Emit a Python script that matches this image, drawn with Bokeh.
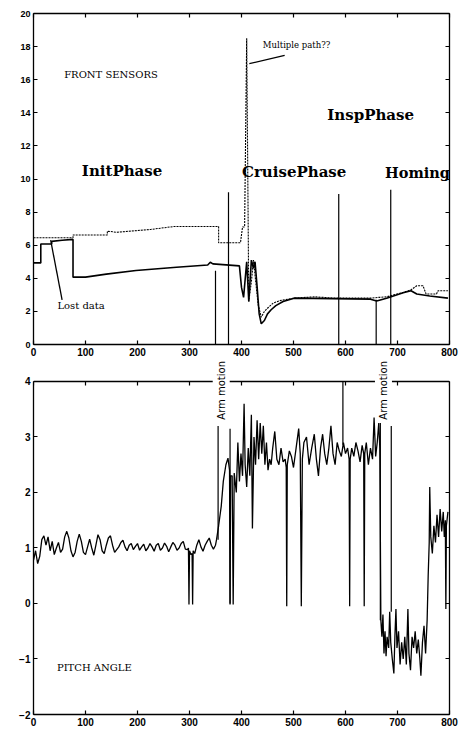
import math
from bokeh.plotting import figure
from bokeh.layouts import column
from bokeh.models import Label, LinearAxis, FixedTicker, Range1d, Span
from bokeh.embed import file_html
from bokeh.resources import INLINE

# ---------------- data: top panel (FRONT SENSORS) ----------------
sensor_a_x = [0, 76, 76, 142, 142, 160, 225, 270, 356, 356, 398, 402, 406, 410, 414, 419, 423, 426,
              428, 432, 438, 444, 452, 461, 474, 501, 540, 580, 648, 665, 679, 711, 726, 737, 749,
              755, 775, 778, 797]
sensor_a_y = [6.45, 6.45, 6.62, 6.62, 6.85, 6.78, 6.95, 7.13, 7.13, 6.15, 6.15, 7.1, 7.1, 18.5, 2.6,
              3.8, 5.1, 4.2, 3.6, 2.4, 1.65, 2.0, 2.25, 2.5, 2.65, 2.8, 2.88, 2.8, 2.8, 2.85, 2.88,
              3.15, 3.3, 3.55, 3.55, 3.05, 3.05, 3.25, 3.25]

sensor_b_x = [0, 14, 14, 35, 35, 55, 76, 76, 100, 140, 197, 275, 335, 340, 345, 396, 400, 404, 410,
              414, 419, 423, 426, 430, 434, 438, 444, 450, 457, 466, 480, 501, 648, 660, 679, 711,
              726, 737, 762, 797]
sensor_b_y = [4.93, 4.93, 6.07, 6.07, 6.23, 6.3, 6.35, 4.07, 4.07, 4.25, 4.47, 4.67, 4.8, 4.97, 4.87,
              4.75, 3.45, 2.85, 5.0, 2.6, 5.1, 4.6, 5.0, 3.5, 1.85, 1.25, 1.45, 1.85, 2.1, 2.35, 2.6,
              2.8, 2.74, 2.63, 2.8, 3.13, 3.25, 3.05, 2.93, 2.8]

top_marker_x = [350, 375, 587, 659, 687]
top_marker_y1 = [4.45, 9.2, 9.1, 2.7, 9.35]
top_marker_y0 = [0, 0, 0, 0, 0]

multipath_x = [415, 483]
multipath_y = [16.97, 17.47]
lostdata_x = [33, 55]
lostdata_y = [6.3, 2.7]

# ---------------- data: bottom panel (PITCH ANGLE) ----------------
pitch_x = [0, 4, 8, 12, 16, 20, 24, 28, 32, 36, 40, 44, 48, 52, 56, 60, 64, 68, 72, 76, 80, 84, 88,
           92, 96, 100, 104, 108, 112, 116, 120, 124, 128, 132, 136, 140, 144, 148, 152, 156, 160,
           164, 168, 172, 176, 180, 184, 188, 192, 196, 200, 204, 208, 212, 216, 220, 224, 228, 232,
           236, 240, 244, 248, 252, 256, 260, 264, 268, 272, 276, 280, 284, 288, 292, 296,
           298, 299, 300, 303, 305, 306, 307, 310, 314, 318, 322, 326, 330, 334, 338, 342, 346, 350,
           352, 356, 361, 365, 370, 374, 377, 378, 379, 382, 384, 386, 390, 393, 396, 399, 402, 405,
           407, 410, 413, 416, 419, 421, 424, 427, 430, 433, 436, 439, 442, 445, 448, 451, 454, 457,
           460, 464, 468, 472, 476, 480, 484, 486, 487, 488, 492, 496, 500, 505, 510, 513, 515, 517,
           520, 525, 530, 535, 540, 544, 548, 552, 556, 560, 564, 568, 572, 576, 580, 584, 588, 592,
           596, 600, 604, 607, 608, 609, 612, 616, 620, 624, 628, 632, 635, 636, 637, 640, 644, 648,
           652, 655, 658, 661, 664, 666, 668, 670, 672, 674, 676, 678, 680, 683, 685, 687, 690, 693,
           695, 697, 699, 702, 705, 708, 711, 714, 717, 720, 722, 725, 728, 731, 734, 737, 740, 743,
           745, 748, 751, 754, 757, 759, 761, 762, 764, 767, 770, 773, 776, 779, 782, 785, 788, 790,
           792, 793, 794, 797]
pitch_y = [0.78, 0.95, 0.72, 0.85, 1.15, 1.22, 1.05, 1.2, 0.95, 1.12, 0.88, 1.0, 1.1, 0.92, 0.98,
           1.2, 1.3, 1.18, 0.95, 0.84, 0.92, 1.12, 1.25, 1.12, 0.92, 0.88, 1.02, 1.16, 1.0, 0.87,
           1.05, 1.24, 1.15, 0.95, 0.9, 1.05, 1.18, 1.22, 1.05, 0.92, 0.97, 1.02, 1.1, 1.14, 1.02,
           0.95, 1.05, 1.08, 0.97, 1.03, 1.08, 0.96, 1.02, 1.07, 0.95, 1.0, 1.08, 1.02, 0.94, 1.05,
           1.08, 0.96, 1.0, 1.09, 1.03, 0.93, 1.02, 1.1, 1.05, 0.96, 1.0, 1.08, 1.12, 0.98, 0.97,
           1.0, -0.02, 0.95, 0.88, 0.9, -0.02, 0.95, 0.9, 1.05, 1.15, 1.02, 0.94, 1.05, 1.12, 1.18,
           1.05, 0.98, 1.05,
           1.15, 1.4, 1.75, 2.2, 2.5, 2.62, 2.4, -0.02, 2.3, 2.3, -0.02, 2.35, 2.0, 2.9, 2.2, 2.7,
           2.3, 3.6, 2.5, 2.1, 2.8, 2.3, 3.4, 1.35, 3.0, 2.5, 3.3, 2.6, 3.25, 2.7, 3.2, 2.5, 2.9,
           2.4, 2.6, 2.5, 2.8, 3.1, 2.6, 2.5, 2.8, 2.55, 2.6, 2.45, -0.05, 2.5, 2.75, 2.65, 2.45,
           2.8, 3.15, 2.7, -0.05, 2.6, 2.9, 3.0, 2.5, 2.8, 3.05, 2.6, 2.3, 2.8, 3.05, 2.7, 2.5, 2.8,
           3.2, 2.7, 2.5, 2.9, 2.75, 2.65, 2.9, 2.7, 2.8, 2.6, -0.05, 2.6, 2.8, 2.65, 2.9, 2.75,
           2.55, 2.85, 2.7, -0.05, 2.7, 2.9, 2.5, 2.8, 2.6, 3.35, 2.65, 2.9, 3.25, 2.8, -0.3, -0.6,
           -0.2, -0.9, -0.5, -0.95, -0.6, -0.8, -0.15, -0.7, -1.0, -1.26, -0.6, -0.1, -0.8, -0.5,
           -1.1, -0.7, -1.0, -0.6, -1.1, -0.1, -0.9, -1.2, -0.6, -0.8, -0.5, -0.9, -0.65, -1.0,
           -1.3, -0.7, -0.4, -0.9, -0.3, 0.5, 1.1, 2.1, 1.2, 0.9, 1.4, 1.1, 1.6, 1.2, 1.7, 1.3,
           1.65, 1.2, 1.5, -0.1, 1.4, 1.65]

pitch_marker_x = [355, 378, 595, 667, 688]
pitch_marker_y0 = [1.15, 0.0, 2.86, -0.3, -0.15]
pitch_marker_y1 = [3.2, 3.15, 4.0, 3.25, 3.2]

x_ticks = [0, 100, 200, 300, 400, 500, 600, 700, 800]
top_y_ticks = [0, 2, 4, 6, 8, 10, 12, 14, 16, 18, 20]
pitch_y_ticks = [-2, -1, 0, 1, 2, 3, 4]

phase_names = ["InitPhase", "CruisePhase", "InspPhase", "Homing"]

TICK_FONT = "Liberation Sans"
SERIF = "DejaVu Serif"


def style_axis(ax, size):
    ax.major_tick_in = 4
    ax.major_tick_out = 0
    ax.minor_tick_line_color = None
    ax.axis_line_width = 1.3
    ax.major_tick_line_width = 1.2
    ax.major_label_text_font = TICK_FONT
    ax.major_label_text_font_style = "bold"
    ax.major_label_text_color = "black"
    ax.major_label_text_font_size = size
    ax.major_label_standoff = 3


def blank_axis(ticks, bounds=None):
    ax = LinearAxis(ticker=FixedTicker(ticks=ticks), major_label_text_font_size="1px",
                    major_label_text_color=None, major_tick_in=4, major_tick_out=0,
                    major_label_standoff=0, minor_tick_line_color=None,
                    axis_line_width=1.3, major_tick_line_width=1.2)
    if bounds is not None:
        ax.bounds = bounds
    return ax


def base_style(p):
    p.grid.visible = False
    p.outline_line_color = None
    p.background_fill_color = "white"
    p.border_fill_color = "white"


def add_text(p, x, y, text, size, font=SERIF, style="normal", align="left", angle=0.0, bg=None):
    lab = Label(x=x, y=y, text=text, text_font=font, text_font_size=size,
                text_font_style=style, text_color="black", text_align=align,
                text_baseline="middle", angle=angle)
    if bg is not None:
        lab.background_fill_color = bg
        lab.padding = 3
    p.add_layout(lab)


# ---------------- top figure ----------------
p1 = figure(width=464, height=358, output_backend="svg", toolbar_location=None,
            x_range=Range1d(0, 800), y_range=Range1d(0, 20),
            min_border_left=33, min_border_right=10, min_border_top=13, min_border_bottom=13)
base_style(p1)
p1.xaxis.ticker = FixedTicker(ticks=x_ticks)
p1.yaxis.ticker = FixedTicker(ticks=top_y_ticks)
style_axis(p1.xaxis[0], "10px")
style_axis(p1.yaxis[0], "9px")
p1.add_layout(blank_axis(x_ticks), "above")
p1.add_layout(blank_axis(top_y_ticks), "right")

p1.line(sensor_b_x, sensor_b_y, line_color="black", line_width=1.6)
p1.line(sensor_a_x, sensor_a_y, line_color="black", line_width=1.1, line_dash="2 1")
p1.segment(x0=top_marker_x, y0=top_marker_y0, x1=top_marker_x, y1=top_marker_y1,
           line_color="black", line_width=1.2)
p1.line(multipath_x, multipath_y, line_color="black", line_width=1.2)
p1.line(lostdata_x, lostdata_y, line_color="black", line_width=1.3)

add_text(p1, 59, 16.3, "FRONT SENSORS", "10px")
add_text(p1, 93, 10.5, phase_names[0], "15px", style="bold")
add_text(p1, 401, 10.4, phase_names[1], "15px", style="bold")
add_text(p1, 565, 13.85, phase_names[2], "15px", style="bold")
add_text(p1, 676, 10.4, phase_names[3], "14.5px", style="bold")
add_text(p1, 441, 18.1, "Multiple path??", "8.5px")
add_text(p1, 46, 2.35, "Lost data", "10px")

# ---------------- bottom figure ----------------
# frame reaches a little above y=4 so the "Arm motion" notes can straddle the top border
pitch_top = 4
p2 = figure(width=464, height=374, output_backend="svg", toolbar_location=None,
            x_range=Range1d(0, 800), y_range=Range1d(-2, 4.414),
            min_border_left=26, min_border_right=15, min_border_top=0, min_border_bottom=18)
base_style(p2)
p2.xaxis.ticker = FixedTicker(ticks=x_ticks)
p2.yaxis.ticker = FixedTicker(ticks=pitch_y_ticks)
style_axis(p2.xaxis[0], "10px")
style_axis(p2.yaxis[0], "10px")
p2.yaxis[0].bounds = (-2, pitch_top)
p2.add_layout(blank_axis(pitch_y_ticks, bounds=(-2, pitch_top)), "right")

p2.add_layout(Span(location=pitch_top, dimension="width", line_color="black", line_width=1.3))
p2.segment(x0=x_ticks, y0=[pitch_top] * len(x_ticks), x1=x_ticks,
           y1=[pitch_top - 0.072] * len(x_ticks), line_color="black", line_width=1.2)

p2.line(pitch_x, pitch_y, line_color="black", line_width=1.3)
p2.segment(x0=pitch_marker_x, y0=pitch_marker_y0, x1=pitch_marker_x, y1=pitch_marker_y1,
           line_color="black", line_width=1.2)

add_text(p2, 45, -1.15, "PITCH ANGLE", "10px")
add_text(p2, 361, 3.84, "Arm motion", "10px", font="DejaVu Sans", align="center",
         angle=math.pi / 2, bg="white")
add_text(p2, 673, 3.84, "Arm motion", "10px", font="DejaVu Sans", align="center",
         angle=math.pi / 2, bg="white")

layout = column(p1, p2, spacing=0)
open("out.html", "w").write(file_html(layout, INLINE))
